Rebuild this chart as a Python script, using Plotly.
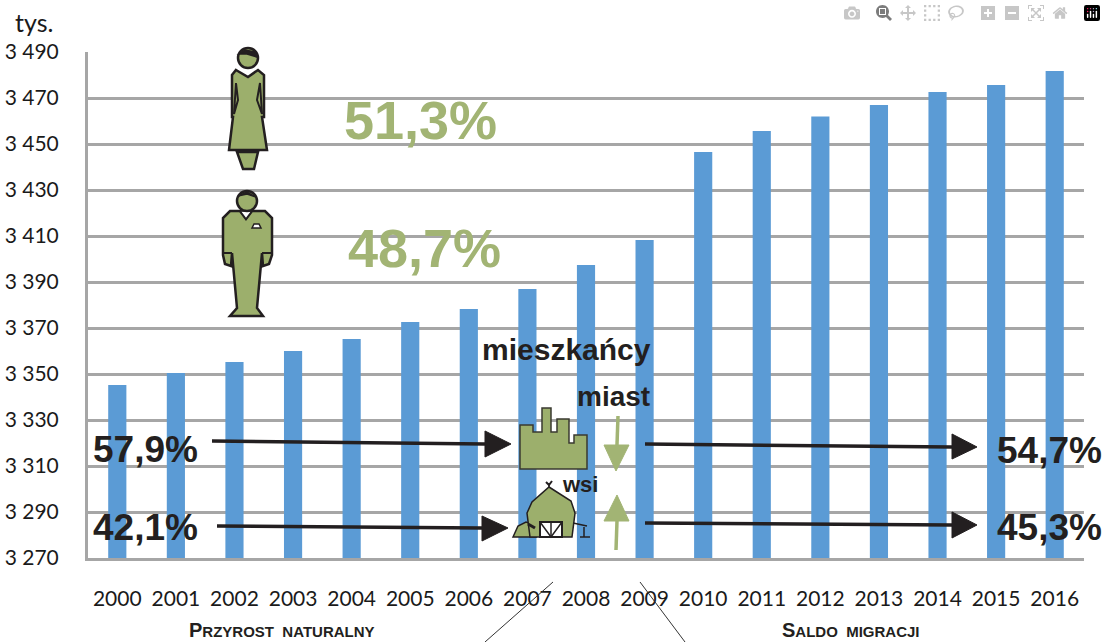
import plotly.graph_objects as go

years = [str(y) for y in range(2000, 2017)]
population = [3345.2, 3350.4, 3355.2, 3360.0, 3365.2, 3372.6, 3378.3, 3387.0, 3397.4,
              3408.3, 3446.5, 3455.6, 3462.0, 3467.0, 3472.6, 3475.6, 3481.7]
y_ticks = list(range(3270, 3491, 20))
y_labels = ["3 270", "3 290", "3 310", "3 330", "3 350", "3 370", "3 390", "3 410",
            "3 430", "3 450", "3 470", "3 490"]

W, H = 1106, 642
L, R, T, B = 88, 1084, 52, 558
BLUE = "#5B9BD5"
GRID = "#A6A6A6"
GREEN = "#9CAF6C"
LGREEN = "#A2B474"
DARK = "#231F20"


def px(x):
    return (x - L) / (R - L)


def py(y):
    return (B - y) / (B - T)


def poly(pts, fill=None, color=DARK, width=2.5, closed=True):
    d = "M " + " L ".join(f"{px(x):.5f},{py(y):.5f}" for x, y in pts) + (" Z" if closed else "")
    return dict(type="path", xref="paper", yref="paper", path=d, fillcolor=fill or "rgba(0,0,0,0)",
                line=dict(color=color, width=width), layer="above")


def circle(cx, cy, r, fill=GREEN, color=DARK, width=2.5):
    return dict(type="circle", xref="paper", yref="paper", x0=px(cx - r), x1=px(cx + r),
                y0=py(cy + r), y1=py(cy - r), fillcolor=fill,
                line=dict(color=color, width=width), layer="above")


shapes = []
# woman
shapes += [
    poly([(236, 70), (248, 77), (258, 70), (264, 75), (264, 117), (262, 117), (267, 150), (229, 150),
          (233, 117), (232, 117), (232, 75)], GREEN),
    poly([(237, 152), (258, 152), (254, 169), (243, 169)], GREEN),
    poly([(236, 83), (238, 100), (234, 114)], width=2),
    poly([(260, 83), (257, 100), (262, 114)], width=2),
    circle(248, 58, 10),
    poly([(239, 54), (245, 50), (255, 52), (257, 57), (247, 54)], DARK, width=1.5),
]
# man
shapes += [
    poly([(230, 211), (240, 211), (246, 219), (252, 211), (265, 211), (272, 218), (272, 255), (269, 264),
          (263, 266), (262, 253), (257, 308), (263, 316), (230, 316), (237, 308), (232, 253), (231, 266),
          (225, 264), (223, 255), (223, 218)], GREEN),
    poly([(240, 211), (246, 219), (252, 211)], "#FFFFFF", width=1.5),
    poly([(223, 253), (232, 253)], width=2, closed=False),
    poly([(262, 253), (272, 253)], width=2, closed=False),
    poly([(252, 228), (254, 224), (259, 224), (261, 228)], "#FFFFFF", width=1.5),
    circle(247, 201, 10),
    poly([(238, 196), (247, 192), (256, 197), (247, 194)], DARK, width=1.5),
]
# factory
shapes.append(poly([(520, 425), (533, 425), (533, 432), (542, 432), (542, 408), (551, 408), (551, 432),
                    (557, 432), (557, 419), (569, 419), (569, 443), (574, 443), (574, 435), (587, 435),
                    (587, 469), (520, 469)], GREEN, color="#3A3A30", width=1.5))
# barn
shapes += [
    poly([(513, 537), (518, 526), (526, 522), (532, 524), (536, 537)], GREEN, width=1.5),
    poly([(549, 487), (571, 501), (575, 513), (572, 537), (530, 537), (527, 513), (532, 502)], GREEN, width=1.5),
    poly([(540, 522), (562, 522), (562, 537), (540, 537)], "#FFFFFF", width=2),
    poly([(540, 522), (551, 537), (562, 522)], width=1.5, closed=False),
    poly([(551, 522), (551, 537)], width=1.5, closed=False),
    poly([(528, 524), (535, 528)], width=3, closed=False),
    poly([(549, 487), (549, 483)], width=1.5, closed=False),
    poly([(546, 482), (549, 485), (552, 481)], width=2, closed=False),
    poly([(573, 523), (587, 526)], width=1.5, closed=False),
    poly([(584, 527), (584, 537)], width=1.5, closed=False),
    poly([(580, 537), (590, 537)], width=1.5, closed=False),
]
# green arrows
shapes += [
    poly([(618, 416), (617, 445)], color=LGREEN, width=3.5, closed=False),
    poly([(604, 445), (629, 445), (616, 471)], LGREEN, color=LGREEN, width=1),
    poly([(617, 521), (616, 550)], color=LGREEN, width=3.5, closed=False),
    poly([(617, 495), (629, 521), (604, 521)], LGREEN, color=LGREEN, width=1),
]
# black arrows
shapes += [
    poly([(212, 441), (485, 444)], width=3.5, closed=False),
    poly([(485, 431), (511, 444), (485, 457)], DARK, width=1),
    poly([(217, 526), (482, 528)], width=3.5, closed=False),
    poly([(482, 516), (508, 528), (482, 541)], DARK, width=1),
    poly([(645, 444), (952, 447)], width=3.5, closed=False),
    poly([(952, 434), (977, 447), (952, 459)], DARK, width=1),
    poly([(645, 523), (952, 525)], width=3.5, closed=False),
    poly([(952, 512), (977, 525), (952, 538)], DARK, width=1),
]
# leader lines
shapes += [
    poly([(553, 582), (485, 642)], color="#333333", width=1, closed=False),
    poly([(640, 582), (685, 642)], color="#333333", width=1, closed=False),
]


def label(text, x, y, size, color=DARK, family="Liberation Sans", bold=True):
    return dict(text=f"<b>{text}</b>" if bold else text, x=px(x), y=py(y), xref="paper", yref="paper",
                xanchor="center", yanchor="middle", showarrow=False,
                font=dict(family=family, size=size, color=color))


def small_caps(first, rest):
    return f'<span style="font-size:20px">{first}</span>{rest}'


annotations = [
    label("tys.", 34, 22, 25, color="#1A1A1A", family="Lato", bold=False),
    label("51,3%", 420, 120, 54, color=LGREEN),
    label("48,7%", 424, 248, 54, color=LGREEN),
    label("57,9%", 145, 449, 37),
    label("42,1%", 145, 527, 37),
    label("54,7%", 1049, 450, 37),
    label("45,3%", 1049, 527, 37),
    label("mieszkańcy", 566, 350, 30),
    label("miast", 613, 396, 28),
    label("wsi", 580, 484, 22),
    label(small_caps("P", "RZYROST  NATURALNY"), 282, 630, 15),
    label(small_caps("S", "ALDO  MIGRACJI"), 851, 630, 15),
]

fig = go.Figure(go.Bar(x=years, y=population, marker=dict(color=BLUE, line=dict(width=0)), hoverinfo="x+y"))

fig.update_layout(
    width=W, height=H, autosize=False,
    margin=dict(l=L, r=W - R, t=T, b=H - B, pad=0, autoexpand=False),
    paper_bgcolor="#FFFFFF", plot_bgcolor="#FFFFFF",
    bargap=0.69, showlegend=False,
    shapes=shapes, annotations=annotations,
    font=dict(family="Lato", color="#1A1A1A"),
)
fig.update_xaxes(type="category", showgrid=False, showline=True, linecolor=GRID, linewidth=3,
                 automargin=False,
                 ticks="outside", ticklen=20, tickcolor="rgba(0,0,0,0)", tickangle=0,
                 tickfont=dict(family="Lato", size=21, color="#1A1A1A"))
fig.update_yaxes(range=[3270, 3490], tickmode="array", tickvals=y_ticks, ticktext=y_labels,
                 automargin=False,
                 showgrid=True, gridcolor=GRID, gridwidth=3, zeroline=False,
                 showline=True, linecolor=GRID, linewidth=3,
                 ticks="outside", ticklen=22, tickcolor="rgba(0,0,0,0)",
                 tickfont=dict(family="Lato", size=21, color="#1A1A1A"))

fig.write_html("out.html", post_script="document.body.style.margin='0';document.body.style.overflow='hidden';")
